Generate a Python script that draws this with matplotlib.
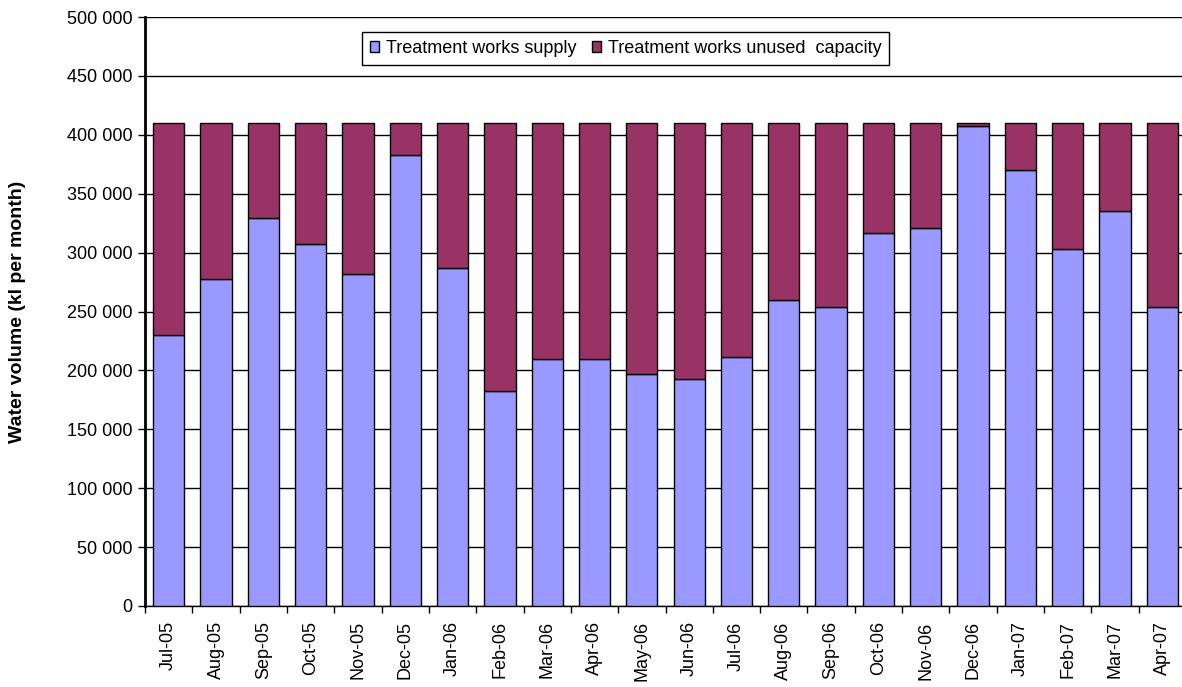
import numpy as np
import matplotlib
matplotlib.use("Agg")
import matplotlib.pyplot as plt
import matplotlib.ticker as tck

plt.rcParams['font.family'] = ['Liberation Sans', 'DejaVu Sans']

# monthly data (kl per month)
months = ['Jul-05', 'Aug-05', 'Sep-05', 'Oct-05', 'Nov-05', 'Dec-05',
          'Jan-06', 'Feb-06', 'Mar-06', 'Apr-06', 'May-06', 'Jun-06',
          'Jul-06', 'Aug-06', 'Sep-06', 'Oct-06', 'Nov-06', 'Dec-06',
          'Jan-07', 'Feb-07', 'Mar-07', 'Apr-07']
supply = [230000, 278000, 329500, 307000, 282000, 383000,
          287000, 182700, 210000, 209300, 196600, 192300,
          211500, 259600, 253400, 316700, 320700, 407800,
          370200, 302900, 335000, 253400]
capacity = [410000] * len(months)
unused = [c - s for c, s in zip(capacity, supply)]

x = np.arange(len(months))

fig = plt.figure(figsize=(11.82, 6.87), dpi=100)
ax = fig.add_axes([145 / 1182, 81 / 687, 1041 / 1182, 589 / 687])

# stacked bars
ax.bar(x, supply, width=0.66, color='#9999FF', edgecolor='black',
       linewidth=1, label='Treatment works supply', zorder=3)
ax.bar(x, unused, width=0.66, bottom=supply, color='#993366',
       edgecolor='black', linewidth=1,
       label='Treatment works unused  capacity', zorder=3)

# axes limits and ticks
ax.set_xlim(-0.5, len(months) - 0.5)
ax.set_ylim(0, 500000)
ax.yaxis.set_major_locator(tck.MultipleLocator(50000))
ax.yaxis.set_major_formatter(
    tck.FuncFormatter(lambda v, p: '{:,}'.format(int(v)).replace(',', ' ')))

ax.set_xticks(x)
ax.set_xticklabels(months, rotation=90)
ax.set_xticks(np.arange(-0.5, len(months)), minor=True)
ax.tick_params(axis='x', which='major', length=0, pad=11, labelsize=13)
ax.tick_params(axis='x', which='minor', length=5, width=1, direction='out')
ax.tick_params(axis='y', length=5, width=1, direction='out', labelsize=13, pad=4)

# gridlines
ax.grid(axis='y', color='black', linewidth=1, zorder=0)
ax.set_axisbelow(True)

for side in ['top', 'right']:
    ax.spines[side].set_visible(False)
ax.spines['left'].set_linewidth(2)
ax.spines['bottom'].set_linewidth(1)

# y label
fig.text(18 / 1182, 1 - 311.5 / 687, 'Water volume (kl per month)',
         rotation=90, ha='center', va='center', fontsize=14, fontweight='bold')

# legend
leg = ax.legend(loc='center', bbox_to_anchor=(0.4618, 0.9465), ncol=2,
                fontsize=13, frameon=True, fancybox=False, framealpha=1,
                edgecolor='black', handlelength=0.5, handleheight=0.5,
                handletextpad=0.35, columnspacing=0.9, borderpad=0.45,
                borderaxespad=0)
leg.get_frame().set_linewidth(1)

fig.savefig('out.png', dpi=100)
